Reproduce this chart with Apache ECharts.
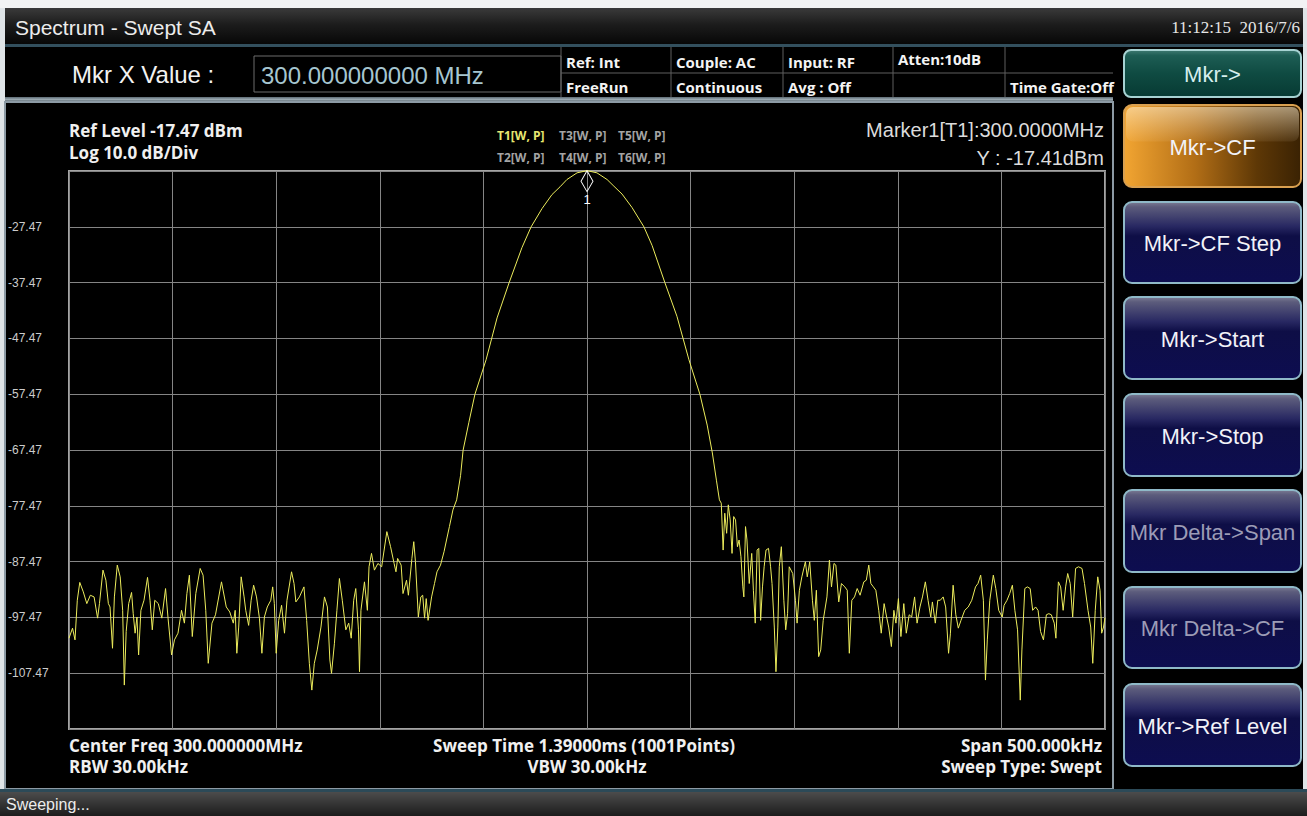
<!DOCTYPE html>
<html><head><meta charset="utf-8">
<script src="https://cdn.jsdelivr.net/npm/echarts@6/dist/echarts.min.js"></script>
<style>html,body{margin:0;padding:0;background:#000;overflow:hidden}#c{width:1307px;height:816px}</style>
</head><body><div id="c"></div>
<script>
// ---------- data ----------
const CENTER_MHZ = 300;
const SPAN_KHZ = 500;
const REF_LEVEL_DBM = -17.47;
const DB_PER_DIV = 10;
const yTickLabels = ['-27.47','-37.47','-47.47','-57.47','-67.47','-77.47','-87.47','-97.47','-107.47'];

const noiseLeftKHz = [-250.0,-248.3,-247.1,-246.0,-244.8,-243.1,-241.4,-239.7,-237.9,-236.2,-235.3,-233.6,-232.2,-231.0,-230.2,-229.0,-228.1,-226.7,-225.3,-224.1,-223.3,-222.4,-221.2,-219.8,-219.0,-218.1,-217.2,-216.4,-215.3,-213.8,-212.1,-210.9,-209.8,-208.6,-206.9,-205.2,-203.4,-202.2,-200.5,-199.1,-197.4,-195.7,-194.3,-193.1,-191.9,-190.5,-188.8,-186.7,-185.3,-184.0,-182.8,-181.0,-179.3,-176.4,-174.1,-172.4,-170.7,-169.8,-169.0,-168.1,-166.9,-165.5,-164.7,-163.3,-162.1,-160.9,-159.5,-158.1,-156.9,-155.7,-154.3,-152.6,-151.7,-150.9,-150.0,-148.8,-147.4,-146.0,-144.8,-142.6,-141.4,-140.5,-138.8,-136.6,-135.3,-134.0,-132.8,-131.6,-130.2,-128.4,-126.7,-125.3,-124.1,-123.3,-121.9,-120.7,-119.5,-118.1,-116.4,-115.0,-113.8,-112.6,-111.6,-110.3,-109.8,-109.1,-107.4,-106.0,-105.2,-104.0,-102.6,-100.9,-99.1,-96.6,-94.8,-93.1,-92.2,-91.4,-89.7,-88.8,-87.1,-86.2,-84.5,-83.6,-82.8,-81.4,-80.2,-79.3,-78.4,-77.6,-76.7,-75.0,-73.6,-72.4,-70.7,-69.0,-67.8,-66.4,-64.7,-62.9];
const noiseLeftDbm = [-101.2,-99.4,-101.5,-94.4,-91.2,-92.9,-95.0,-93.5,-93.8,-97.6,-95.0,-89.0,-90.8,-95.0,-95.6,-103.0,-93.8,-88.1,-90.2,-96.2,-109.6,-100.0,-95.0,-93.0,-96.8,-100.3,-97.4,-104.2,-96.2,-94.4,-90.3,-94.4,-99.7,-94.4,-95.0,-97.6,-92.3,-97.6,-104.2,-101.5,-100.3,-96.2,-98.5,-93.2,-89.9,-100.9,-93.2,-88.7,-89.9,-96.2,-105.7,-98.5,-97.0,-91.1,-95.6,-96.5,-98.5,-96.2,-103.9,-99.2,-90.2,-93.8,-96.2,-98.9,-94.4,-91.7,-93.8,-97.6,-103.9,-97.4,-95.6,-94.4,-92.0,-95.0,-103.9,-98.0,-95.3,-100.3,-94.4,-89.3,-91.4,-94.7,-93.8,-92.0,-98.0,-105.7,-110.5,-105.7,-103.3,-99.2,-93.8,-95.6,-105.1,-107.5,-102.1,-96.2,-90.5,-94.4,-99.7,-98.5,-101.2,-94.4,-92.3,-99.7,-107.2,-96.2,-91.1,-96.2,-88.4,-86.0,-89.0,-87.8,-88.4,-82.1,-84.8,-87.8,-89.3,-86.9,-88.1,-93.2,-90.8,-93.5,-86.9,-83.9,-87.5,-97.4,-93.8,-93.5,-97.6,-94.1,-98.0,-93.8,-91.4,-89.3,-88.1,-85.7,-83.6,-81.2,-78.2,-76.4];

const lobeKHz = [-61.0,-59.8,-57.0,-54.1,-48.7,-43.4,-37.6,-31.4,-27.0,-21.7,-16.9,-13.0,-9.7,-4.8,0,4.8,9.7,13.0,16.9,21.7,27.5,31.4,37.6,43.4,49.2,54.5,58.0,60.5,62.5];
const lobeDbm = [-72.0,-67.5,-62.5,-57.5,-51.3,-43.8,-37.5,-31.2,-27.5,-24.2,-21.7,-20.3,-19.0,-17.8,-17.41,-17.8,-19.0,-20.2,-21.6,-24.0,-27.5,-30.8,-37.5,-43.5,-51.3,-57.5,-63.0,-68.0,-73.0];

const noiseRightKHz = [63.9,64.8,65.7,66.5,67.4,68.2,69.1,70.0,70.8,71.7,72.6,73.4,74.3,75.2,75.7,76.5,77.2,78.3,79.5,80.3,81.2,82.1,82.9,83.8,84.7,85.5,86.4,87.6,88.6,89.3,90.4,91.2,92.1,92.8,93.8,95.0,95.9,96.8,97.6,99.3,100.6,101.4,102.5,103.7,105.4,106.3,107.5,108.8,109.7,110.7,111.8,112.8,114.0,115.8,117.0,118.0,119.2,120.1,121.5,122.8,124.4,125.6,126.6,127.8,129.1,130.4,131.8,133.6,134.8,136.0,137.0,138.2,139.4,140.8,142.0,143.4,144.6,145.6,146.9,148.1,149.1,150.3,151.5,152.9,154.1,155.5,156.7,158.1,159.3,160.7,161.9,163.3,164.6,165.9,166.7,168.1,169.3,170.5,171.9,173.1,174.5,175.4,176.7,178.0,179.2,180.5,182.3,184.0,185.7,187.5,188.7,190.0,191.3,192.3,193.2,194.4,196.1,197.3,198.7,200.4,201.3,202.7,204.0,205.3,206.5,207.8,209.1,209.9,211.3,212.5,213.9,215.1,216.5,217.7,218.9,220.3,221.7,222.9,224.1,225.5,226.3,227.5,228.6,229.8,231.0,232.0,233.2,234.4,235.8,237.2,238.9,240.1,241.8,243.1,244.1,245.3,246.5,247.6,248.4,249.3,250.0];
const noiseRightDbm = [-76.4,-77.0,-85.4,-78.8,-82.4,-77.3,-80.0,-86.0,-79.4,-80.0,-84.8,-83.6,-86.6,-92.0,-93.8,-81.2,-83.6,-91.4,-86.0,-92.6,-98.5,-85.4,-85.1,-98.0,-92.0,-88.4,-85.4,-85.1,-88.4,-91.4,-99.2,-107.2,-99.2,-88.4,-84.8,-94.4,-99.7,-96.8,-88.4,-89.6,-94.4,-98.5,-92.6,-90.2,-87.5,-90.2,-87.5,-94.4,-98.0,-92.6,-104.5,-103.3,-98.0,-93.8,-87.2,-92.0,-87.8,-88.1,-94.7,-91.4,-92.0,-92.6,-103.9,-94.4,-93.8,-92.3,-93.5,-91.1,-90.8,-88.1,-91.4,-92.0,-92.6,-96.2,-100.3,-95.0,-97.4,-99.2,-102.7,-96.2,-98.5,-94.1,-100.9,-95.0,-100.3,-97.0,-97.4,-93.8,-98.5,-95.6,-93.8,-91.1,-94.4,-97.4,-94.7,-98.5,-94.4,-94.4,-93.8,-95.6,-103.9,-100.3,-91.7,-97.0,-99.4,-98.0,-96.2,-95.6,-94.4,-92.0,-91.4,-89.9,-94.4,-108.7,-101.5,-94.4,-89.9,-92.3,-96.2,-97.4,-95.3,-94.4,-93.2,-91.7,-96.2,-99.7,-112.3,-103.3,-92.3,-92.0,-92.3,-96.2,-95.6,-96.2,-100.0,-101.5,-97.0,-96.8,-97.0,-98.5,-101.2,-91.1,-92.0,-96.2,-92.0,-89.6,-91.4,-97.4,-88.7,-88.4,-88.7,-91.4,-96.2,-99.2,-105.7,-96.2,-90.2,-92.6,-100.3,-99.2,-97.5];

const markerFreqMHz = 300.0;
const markerLevelDbm = -17.41;
const menuButtons = ['Mkr->CF','Mkr->CF Step','Mkr->Start','Mkr->Stop','Mkr Delta->Span','Mkr Delta->CF','Mkr->Ref Level'];
const menuEnabled = [true,true,true,true,false,false,true];
const statusCells = [['Ref: Int','FreeRun'],['Couple: AC','Continuous'],['Input: RF','Avg : Off'],['Atten:10dB',''],['','Time Gate:Off']];

// ---------- build ----------
const traceKHz = noiseLeftKHz.concat(lobeKHz, noiseRightKHz);
const traceDbm = noiseLeftDbm.concat(lobeDbm, noiseRightDbm);
const traceData = traceKHz.map((k, i) => [CENTER_MHZ + k / 1000, traceDbm[i]]);

const chart = echarts.init(document.getElementById('c'), null, {renderer: 'svg', width: 1307, height: 816});
const G = echarts.graphic;
const vg = s => new G.LinearGradient(0, 0, 0, 1, s.map(([o, c]) => ({offset: o, color: c})));
const hg = s => new G.LinearGradient(0, 0, 1, 0, s.map(([o, c]) => ({offset: o, color: c})));
const els = [];
function rect(x, y, w, h, style, r, z) {
  els.push({type: 'rect', silent: true, z: z || 0, shape: {x, y, width: w, height: h, r: r || 0}, style});
}
function line(x1, y1, x2, y2, stroke, w, z) {
  els.push({type: 'line', silent: true, z: z || 1, shape: {x1, y1, x2, y2}, style: {stroke, lineWidth: w || 1}});
}
function txt(x, y, text, font, fill, align, z) {
  els.push({type: 'text', silent: true, z: z || 20, x, y,
    style: {text, font, fill, textAlign: align || 'left', textVerticalAlign: 'middle'}});
}
const SANS = '"Liberation Sans", Arial, sans-serif';
const BOLD = 'bold 17px "Open Sans", sans-serif';
const CELL = 'bold 15px "Open Sans", sans-serif';

// outer light strips
rect(0, 0, 1307, 8, {fill: '#f2f3f4'});
rect(0, 8, 5, 782, {fill: '#dfe4e7'});
rect(1303, 8, 4, 782, {fill: '#dfe4e7'});
// title bar
rect(5, 8, 1298, 37, {fill: vg([[0, '#3a3a3a'], [0.45, '#1c1c1c'], [1, '#060606']])});
rect(5, 44, 1298, 3, {fill: '#33505e'});
txt(15, 27, 'Spectrum - Swept SA', '21px ' + SANS, '#ececec');
txt(1300, 27, '11:12:15  2016/7/6', '17px "Liberation Serif", serif', '#e6e6e6', 'right');
// header
rect(5, 47, 1108, 51, {fill: '#000'});
txt(72, 74, 'Mkr X Value :', '24px ' + SANS, '#f2f2f2');
rect(254, 56, 307, 36, {fill: '#000', stroke: '#6c6c6c', lineWidth: 1});
txt(261, 75, '300.000000000 MHz', '24px ' + SANS, '#a6c6d0');
const colX = [561, 671, 783, 893, 1005, 1113];
for (let i = 0; i < colX.length - 1; i++) line(colX[i], 47, colX[i], 97, '#5e5e5e', 1);
line(561, 73, 1113, 73, '#5e5e5e', 1);
statusCells.forEach((c, i) => {
  txt(colX[i] + 5, i === 3 ? 59 : 62, c[0], CELL, '#f4f4f4');
  txt(colX[i] + 5, 87, c[1], CELL, '#f4f4f4');
});
rect(5, 97, 1108, 5, {fill: vg([[0, '#5d6b74'], [0.5, '#9aa8b0'], [1, '#4a5860']])});
// main panel frame
rect(5, 102, 1108, 687, {fill: 'none', stroke: '#8c9aa4', lineWidth: 2});
// status bar
rect(0, 789, 1307, 3, {fill: '#2c4a58'});
rect(0, 792, 1307, 24, {fill: vg([[0, '#4c4c4c'], [1, '#1c1c1c']])});
txt(6, 804, 'Sweeping...', '16px ' + SANS, '#ececec');

// plot annotations
txt(69, 130, 'Ref Level -17.47 dBm', BOLD, '#f0f0f0');
txt(69, 152, 'Log 10.0 dB/Div', BOLD, '#f0f0f0');
const tr = [['T1[W, P]', 497, 135, '#e8e870'], ['T3[W, P]', 559, 135, '#a4a4a4'], ['T5[W, P]', 618, 135, '#a4a4a4'],
            ['T2[W, P]', 497, 157, '#a4a4a4'], ['T4[W, P]', 559, 157, '#a4a4a4'], ['T6[W, P]', 618, 157, '#a4a4a4']];
tr.forEach(t => txt(t[1], t[2], t[0], 'bold 12px "Open Sans", sans-serif', t[3]));
txt(1104, 130, 'Marker1[T1]:300.0000MHz', '20px ' + SANS, '#dcdcdc', 'right');
txt(1104, 158, 'Y : -17.41dBm', '20px ' + SANS, '#dcdcdc', 'right');
txt(69, 745, 'Center Freq 300.000000MHz', BOLD, '#f0f0f0');
txt(69, 766, 'RBW 30.00kHz', BOLD, '#f0f0f0');
txt(584, 745, 'Sweep Time 1.39000ms (1001Points)', BOLD, '#f0f0f0', 'center');
txt(587, 766, 'VBW 30.00kHz', BOLD, '#f0f0f0', 'center');
txt(1102, 745, 'Span 500.000kHz', BOLD, '#f0f0f0', 'right');
txt(1102, 766, 'Sweep Type: Swept', BOLD, '#f0f0f0', 'right');

// right soft-key panel
const BX = 1124, BW = 177;
rect(BX, 50, BW, 47, {fill: vg([[0, '#3f7a72'], [0.12, '#1d5d54'], [0.5, '#0f4b42'], [1, '#073a33']]), stroke: '#a6d2d2', lineWidth: 2}, 7);
txt(BX + BW / 2, 74, 'Mkr->', '22px ' + SANS, '#d6eeee', 'center');
const btnY = [105, 202, 297, 394, 490, 587, 684];
const btnH = [82, 81, 82, 82, 82, 81, 82];
menuButtons.forEach((label, i) => {
  const y = btnY[i], h = btnH[i];
  if (i === 0) {
    rect(BX, y, BW, h, {fill: hg([[0, '#f2a532'], [0.4, '#b26e16'], [0.75, '#5e3806'], [1, '#3a2203']]), stroke: '#d9a050', lineWidth: 2}, 8);
    rect(BX + 2, y + 2, BW - 4, h * 0.42, {fill: vg([[0, 'rgba(255,240,210,0.55)'], [1, 'rgba(255,230,190,0.08)']])}, 7, 1);
  } else {
    rect(BX, y, BW, h, {fill: vg([[0, '#7c7c94'], [0.06, '#5c5c7c'], [0.3, '#282862'], [0.42, '#0e0e46'], [1, '#0d0d50']]), stroke: '#8fb9c8', lineWidth: 2}, 8);
  }
  txt(BX + BW / 2, y + h / 2 + 1, label, '22px ' + SANS, menuEnabled[i] ? '#f2f2f8' : '#9c9cb6', 'center');
});

const yMin = REF_LEVEL_DBM - 10 * DB_PER_DIV;
chart.setOption({
  backgroundColor: '#000',
  animation: false,
  grid: {left: 69, top: 171, width: 1036, height: 558, show: true, borderColor: '#a4a4a4', borderWidth: 2, backgroundColor: 'transparent'},
  xAxis: {
    type: 'value', min: CENTER_MHZ - SPAN_KHZ / 2000, max: CENTER_MHZ + SPAN_KHZ / 2000, interval: SPAN_KHZ / 10000,
    axisLabel: {show: false}, axisTick: {show: false}, axisLine: {show: false},
    splitLine: {show: true, lineStyle: {color: '#858585', width: 1}}
  },
  yAxis: {
    type: 'value', min: yMin, max: REF_LEVEL_DBM, interval: DB_PER_DIV,
    axisTick: {show: false}, axisLine: {show: false},
    splitLine: {show: true, lineStyle: {color: '#858585', width: 1}},
    axisLabel: {
      align: 'left', margin: 61, color: '#cccccc', fontSize: 12, fontFamily: 'Liberation Sans',
      formatter: v => { const s = v.toFixed(2); return yTickLabels.includes(s) ? s : ''; }
    }
  },
  series: [{
    type: 'line', data: traceData, symbol: 'none', silent: true, z: 3, clip: false,
    lineStyle: {color: '#ecec5c', width: 1}
  }, {
    type: 'scatter', silent: true, z: 5, clip: false,
    data: [[markerFreqMHz, markerLevelDbm]],
    symbol: 'diamond', symbolSize: [12, 21], symbolOffset: [0, '50%'],
    itemStyle: {color: 'rgba(0,0,0,0)', borderColor: '#ffffff', borderWidth: 1, opacity: 1},
    label: {show: true, position: 'bottom', distance: 1, formatter: '1', color: '#ffffff', fontSize: 13, fontFamily: 'Liberation Sans'}
  }],
  graphic: {elements: els}
});
</script></body></html>
